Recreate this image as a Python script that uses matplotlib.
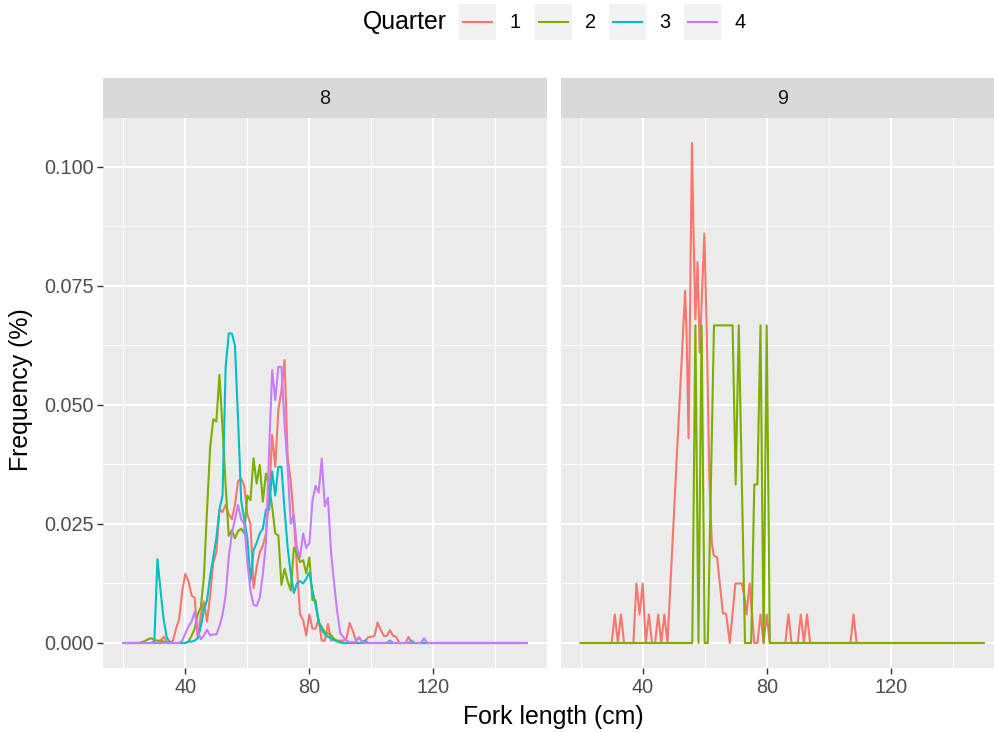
import numpy as np
import matplotlib
matplotlib.use("Agg")
import matplotlib.pyplot as plt
from matplotlib.lines import Line2D
from matplotlib.patches import Rectangle
from matplotlib.ticker import FixedLocator, FuncFormatter

plt.rcParams['font.family'] = ['Liberation Sans', 'DejaVu Sans']

# ---------------------------------------------------------------- data
quarters = ["1", "2", "3", "4"]
colors = ["#F8766D", "#7CAE00", "#00BFC4", "#C77CFF"]
facets = ["8", "9"]

# facet 8: relative length frequency per 1 cm bin, 20..150 cm
length_8 = np.arange(20, 151)

freq_8_q1 = [
    0, 0, 0, 0, 0, 0, 0, 0, 0, 0, 0, 0,                       # 20-31
    0.0005, 0.0013, 0.0003, 0, 0.0005, 0.003, 0.005, 0.011,   # 32-39
    0.0145, 0.013, 0.010, 0.0095, 0.001, 0.006, 0.0087, 0.0045, 0.010, 0.017,  # 40-49
    0.019, 0.028, 0.0275, 0.029, 0.027, 0.026, 0.029, 0.034, 0.0345, 0.033,   # 50-59
    0.027, 0.025, 0.0115, 0.016, 0.019, 0.0205, 0.023, 0.030, 0.0437, 0.037,  # 60-69
    0.049, 0.053, 0.0594, 0.039, 0.034, 0.026, 0.016, 0.006, 0.0048, 0.0016,  # 70-79
    0.006, 0.003, 0.003, 0.005, 0.0005, 0.0005, 0.004, 0.0005, 0.0008, 0.0005,  # 80-89
    0.0005, 0.0005, 0.001, 0.0042, 0.0026, 0.0005, 0.0012, 0.0003, 0.0005, 0.0012,  # 90-99
    0.0013, 0.0015, 0.0043, 0.0028, 0.0015, 0.0015, 0.0027, 0.0015, 0.0013, 0,  # 100-109
    0, 0, 0.0013, 0, 0, 0, 0, 0, 0, 0,                        # 110-119
    0, 0, 0, 0, 0, 0, 0, 0, 0, 0,                             # 120-129
    0, 0, 0, 0, 0, 0, 0, 0, 0, 0,                             # 130-139
    0, 0, 0, 0, 0, 0, 0, 0, 0, 0, 0,                          # 140-150
]

freq_8_q2 = [
    0, 0, 0, 0, 0, 0,                                         # 20-25
    0.0002, 0.0004, 0.0008, 0.001,                            # 26-29
    0.0006, 0.0005, 0.0005, 0.0003, 0.0001, 0, 0, 0, 0, 0,    # 30-39
    0, 0.0003, 0.0015, 0.003, 0.006, 0.0075, 0.014, 0.028, 0.041, 0.047,   # 40-49
    0.0465, 0.0563, 0.045, 0.033, 0.0225, 0.0237, 0.022, 0.0235, 0.024, 0.023,  # 50-59
    0.031, 0.030, 0.0388, 0.0335, 0.0374, 0.0297, 0.0356, 0.0328, 0.0286, 0.023,  # 60-69
    0.0226, 0.0122, 0.0156, 0.013, 0.011, 0.020, 0.0188, 0.017, 0.0174, 0.0146,  # 70-79
    0.018, 0.009, 0.009, 0.0042, 0.0034, 0.0022, 0.002, 0.0017, 0.0008, 0.0004,  # 80-89
    0.0002, 0, 0, 0, 0, 0, 0, 0, 0, 0,                       # 90-99
    0, 0, 0, 0, 0, 0, 0, 0, 0, 0,                             # 100-109
    0, 0, 0, 0, 0, 0, 0, 0, 0, 0,                             # 110-119
    0, 0, 0, 0, 0, 0, 0, 0, 0, 0,                             # 120-129
    0, 0, 0, 0, 0, 0, 0, 0, 0, 0,                             # 130-139
    0, 0, 0, 0, 0, 0, 0, 0, 0, 0, 0,                          # 140-150
]

freq_8_q3 = [
    0, 0, 0, 0, 0, 0, 0, 0, 0, 0,                             # 20-29
    0.0003, 0.0176, 0.011, 0.005, 0.0012, 0.0002, 0, 0, 0, 0,  # 30-39
    0, 0.0003, 0.0003, 0.0005, 0.001, 0.0035, 0.007, 0.009, 0.014, 0.018,  # 40-49
    0.022, 0.028, 0.031, 0.058, 0.065, 0.065, 0.0625, 0.047, 0.030, 0.026,  # 50-59
    0.022, 0.013, 0.0195, 0.021, 0.023, 0.024, 0.028, 0.028, 0.036, 0.031,  # 60-69
    0.037, 0.037, 0.028, 0.020, 0.0146, 0.0105, 0.0125, 0.013, 0.0125, 0.0135,  # 70-79
    0.0148, 0.011, 0.008, 0.0045, 0.0028, 0.0018, 0.0013, 0.001, 0.0006, 0.0003,  # 80-89
    0.0001, 0, 0, 0, 0, 0, 0, 0, 0.0005, 0,                   # 90-99
    0, 0, 0, 0, 0, 0, 0.0005, 0, 0, 0,                        # 100-109
    0, 0, 0, 0.0005, 0, 0, 0, 0, 0, 0,                        # 110-119
    0, 0, 0, 0, 0, 0, 0, 0, 0, 0,                             # 120-129
    0, 0, 0, 0, 0, 0, 0, 0, 0, 0,                             # 130-139
    0, 0, 0, 0, 0, 0, 0, 0, 0, 0, 0,                          # 140-150
]

freq_8_q4 = [
    0, 0, 0, 0, 0, 0, 0, 0, 0, 0,                             # 20-29
    0, 0, 0, 0, 0, 0, 0, 0, 0, 0.0005,                        # 30-39
    0.002, 0.0035, 0.0045, 0.0065, 0.0025, 0.0008, 0.0016, 0.0028, 0.0016, 0.0018,  # 40-49
    0.0018, 0.0035, 0.006, 0.010, 0.018, 0.023, 0.026, 0.029, 0.026, 0.025,  # 50-59
    0.017, 0.011, 0.008, 0.0078, 0.0095, 0.0145, 0.021, 0.040, 0.0573, 0.051,  # 60-69
    0.058, 0.058, 0.046, 0.037, 0.025, 0.027, 0.020, 0.018, 0.023, 0.020,  # 70-79
    0.021, 0.0298, 0.033, 0.0316, 0.0387, 0.0287, 0.0305, 0.019, 0.0125, 0.0065,  # 80-89
    0.002, 0.0012, 0.0005, 0.0002, 0.0002, 0.0002, 0.0012, 0.0002, 0, 0,  # 90-99
    0, 0, 0, 0, 0, 0, 0.0003, 0, 0, 0,                        # 100-109
    0, 0, 0, 0.0003, 0, 0, 0, 0.001, 0, 0,                    # 110-119
    0, 0, 0, 0, 0, 0, 0, 0, 0, 0,                             # 120-129
    0, 0, 0, 0, 0, 0, 0, 0, 0, 0,                             # 130-139
    0, 0, 0, 0, 0, 0, 0, 0, 0, 0, 0,                          # 140-150
]

# facet 9: only quarters 1 and 2 are present
length_9_q1 = [20, 30, 31, 32, 33, 34, 37, 38, 39, 40, 41, 42, 43, 44, 45, 46, 47, 48,
               53.7, 54.2, 54.8, 55.9, 56.4, 57.0, 57.7, 58.4, 59.1, 59.9, 60.7,
               61.5, 62.3, 62.9, 64.0, 65.9, 66.9, 68.1, 69.9, 72.0, 73.0, 73.5,
               74.5, 76.0, 77, 78, 79, 80, 81, 86, 87, 88, 90, 91, 92, 93, 94,
               107, 108, 109, 150]
freq_9_q1 = [0, 0, 0.006, 0, 0.006, 0, 0, 0.0125, 0.006, 0.0125, 0, 0.006, 0, 0, 0.006, 0, 0.006, 0,
             0.074, 0.064, 0.043, 0.105, 0.086, 0.068, 0.080, 0.061, 0.073, 0.086, 0.064,
             0.035, 0.021, 0.0184, 0.018, 0.0062, 0.0062, 0, 0.0125, 0.0125, 0.009, 0.006,
             0.0125, 0, 0, 0.006, 0, 0.006, 0, 0, 0.006, 0, 0, 0.006, 0, 0.006, 0,
             0, 0.006, 0, 0]

length_9_q2 = [20, 56, 57, 58, 59, 60, 61, 62, 63, 64, 65, 66, 67, 68, 69, 70, 71, 72,
               73, 74, 75, 76, 77, 78, 79, 80, 81, 150]
freq_9_q2 = [0, 0, 0.0667, 0, 0.0667, 0, 0, 0.0333, 0.0667, 0.0667, 0.0667, 0.0667, 0.0667,
             0.0667, 0.0667, 0.0333, 0.0667, 0.0333, 0, 0, 0, 0.0333, 0.0333, 0.0667, 0,
             0.0667, 0, 0]

x_major = [40, 80, 120]
x_minor = [20, 60, 100, 140]
y_major = [0.0, 0.025, 0.050, 0.075, 0.100]
y_minor = [0.0125, 0.0375, 0.0625, 0.0875]

series = {
    "8": [(length_8, freq_8_q1), (length_8, freq_8_q2), (length_8, freq_8_q3), (length_8, freq_8_q4)],
    "9": [(length_9_q1, freq_9_q1), (length_9_q2, freq_9_q2)],
}

# ---------------------------------------------------------------- layout (pixels)
W, H = 995, 732
fig = plt.figure(figsize=(W / 100, H / 100), dpi=100)


def rect(x0, y0, x1, y1):
    return [x0 / W, 1 - y1 / H, (x1 - x0) / W, (y1 - y0) / H]


panel_top, panel_bot = 118, 668
strip_top = 78
panel_x = {"8": (103.2, 546.5), "9": (560.5, 1003.9)}

TICK_COL = "#4D4D4D"
small = 14.3
big = 17.9

for facet in facets:
    x0, x1 = panel_x[facet]
    ax = fig.add_axes(rect(x0, panel_top, x1, panel_bot))
    ax.set_facecolor("#EBEBEB")
    for s in ax.spines.values():
        s.set_visible(False)
    ax.set_xlim(13.5, 156.5)
    ax.set_ylim(-0.00525, 0.11025)
    ax.xaxis.set_major_locator(FixedLocator(x_major))
    ax.xaxis.set_minor_locator(FixedLocator(x_minor))
    ax.yaxis.set_major_locator(FixedLocator(y_major))
    ax.yaxis.set_minor_locator(FixedLocator(y_minor))
    ax.yaxis.set_major_formatter(FuncFormatter(lambda v, p: f"{v:.3f}"))
    ax.grid(which="major", color="white", lw=1.5)
    ax.grid(which="minor", color="white", lw=0.75)
    ax.set_axisbelow(True)
    ax.tick_params(which="minor", length=0)
    ax.tick_params(which="major", direction="out", length=4, width=1.0,
                   color="#333333", labelcolor=TICK_COL, labelsize=small, pad=3)
    if facet != "8":
        ax.tick_params(axis="y", left=False, labelleft=False)

    for i, (xs, ys) in enumerate(series[facet]):
        ax.plot(xs, ys, color=colors[i], lw=1.5, solid_joinstyle="round", clip_on=True)

    # facet strip
    sax = fig.add_axes(rect(x0, strip_top, x1, panel_top))
    sax.set_facecolor("#D9D9D9")
    sax.set_xticks([])
    sax.set_yticks([])
    for s in sax.spines.values():
        s.set_visible(False)
    sax.text(0.5, 0.5, facet, ha="center", va="center", fontsize=small,
             color="#1A1A1A", transform=sax.transAxes)

# axis titles
fig.text((103.2 + 1003.9) / 2 / W, 1 - 717 / H, "Fork length (cm)", ha="center",
         va="center", fontsize=big, color="black")
fig.text(21 / W, 1 - 390 / H, "Frequency (%)", ha="center", va="center",
         rotation=90, fontsize=big, color="black")

# legend
leg_y = 22
fig.text(363 / W, 1 - leg_y / H, "Quarter", ha="left", va="center",
         fontsize=big, color="black")
key_left = [459, 535, 609, 684]
for i, q in enumerate(quarters):
    kx = key_left[i]
    fig.patches.append(Rectangle((kx / W, 1 - 40 / H), 37 / W, 36 / H,
                                 transform=fig.transFigure, facecolor="#F2F2F2",
                                 edgecolor="none"))
    fig.lines.append(Line2D([(kx + 4) / W, (kx + 33) / W], [1 - leg_y / H] * 2,
                            transform=fig.transFigure, color=colors[i], lw=1.5))
    fig.text((kx + 37 + 19) / W, 1 - leg_y / H, q, ha="center", va="center",
             fontsize=small, color="black")

fig.savefig("out.png", dpi=100)
